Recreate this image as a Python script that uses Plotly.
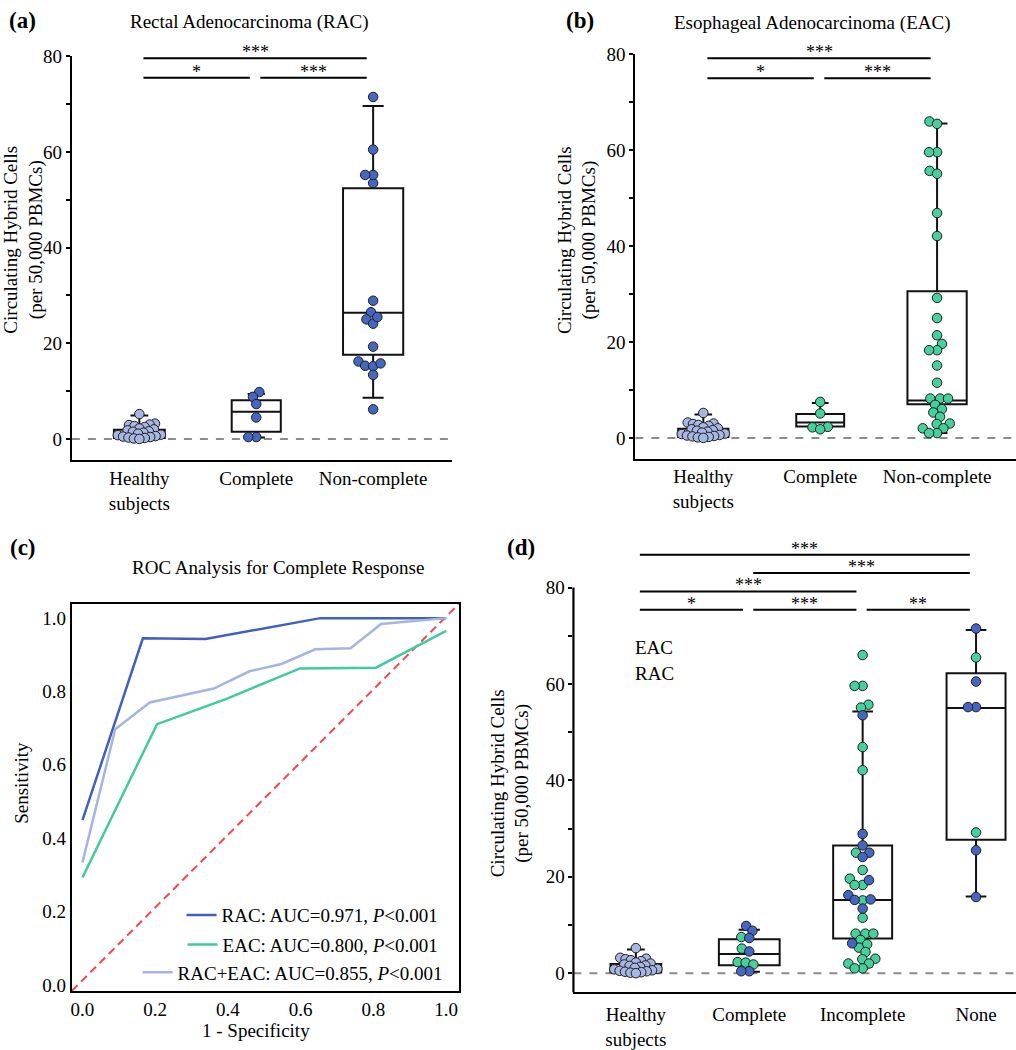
import math
import plotly.graph_objects as go

W, H = 1016, 1050
FONT = "Liberation Serif"
BLUE = "#4468C2"
LIGHT = "#A6B7E3"
GREEN = "#45D09C"
ROC_BLUE = "#3F60BE"
ROC_GREEN = "#3FCB9B"
ROC_LIGHT = "#A3B5E0"

# ---------------- data ----------------
cats_ab = ["Healthy<br>subjects", "Complete", "Non-complete"]
cats_d = ["Healthy<br>subjects", "Complete", "Incomplete", "None"]

healthy = [5.2, 3.2, 3.0, 2.9, 2.7, 2.5, 2.2, 2.0, 1.8, 1.6, 1.5, 1.3, 1.1,
           0.9, 0.8, 0.6, 0.5, 0.4, 0.3, 0.2, 0.1, 0.0]
rac_complete = [9.8, 8.8, 7.3, 4.5, 0.4, 0.4]
rac_incomplete = [53.5, 28.9, 26.5, 25.0, 24.1, 19.3, 16.2, 15.3, 15.2, 13.4, 6.2]
rac_none = [71.5, 60.5, 55.2, 55.2, 25.5, 15.8]
eac_complete = [7.5, 5.1, 2.3, 2.2, 1.8]
eac_incomplete = [66.0, 59.6, 59.6, 55.7, 55.1, 46.9, 42.1, 25.0, 21.4, 19.6,
                  18.3, 18.3, 15.1, 11.5, 8.2, 8.2, 8.2, 6.9, 6.0, 5.3, 4.4,
                  3.0, 2.9, 2.0, 2.0, 1.0, 1.0]
eac_none = [65.5, 29.2]

# box statistics as drawn in the picture
box_a_q1 = [0.2, 1.5, 17.6]
box_a_med = [0.9, 5.7, 26.4]
box_a_q3 = [1.9, 8.1, 52.4]
box_a_lo = [0.0, 0.3, 8.6]
box_a_hi = [4.9, 9.4, 69.6]

box_b_q1 = [0.2, 2.4, 7.0]
box_b_med = [0.9, 3.2, 7.8]
box_b_q3 = [1.9, 5.0, 30.6]
box_b_lo = [0.0, 1.8, 1.0]
box_b_hi = [4.9, 7.3, 65.6]

box_d_q1 = [0.2, 1.65, 7.2, 27.7]
box_d_med = [0.9, 4.0, 15.2, 55.0]
box_d_q3 = [1.9, 7.05, 26.5, 62.2]
box_d_lo = [0.0, 0.3, 1.4, 15.9]
box_d_hi = [4.9, 9.0, 54.3, 71.2]

# significance comparisons (group i, group j, level, label)
sig_a = [(0, 2, 1, "***"), (0, 1, 0, "*"), (1, 2, 0, "***")]
sig_b = [(0, 2, 1, "***"), (0, 1, 0, "*"), (1, 2, 0, "***")]
sig_d = [(0, 3, 3, "***"), (1, 3, 2, "***"), (0, 2, 1, "***"),
         (0, 1, 0, "*"), (1, 2, 0, "***"), (2, 3, 0, "**")]

# ROC curves
roc_rac_x = [0.0, 0.166, 0.338, 0.654, 1.0]
roc_rac_y = [0.449, 0.945, 0.943, 1.0, 1.0]
roc_eac_x = [0.0, 0.205, 0.394, 0.598, 0.807, 1.0]
roc_eac_y = [0.293, 0.711, 0.779, 0.863, 0.865, 0.965]
roc_all_x = [0.0, 0.090, 0.185, 0.361, 0.459, 0.547, 0.640, 0.737, 0.821, 1.0]
roc_all_y = [0.334, 0.697, 0.770, 0.808, 0.855, 0.875, 0.915, 0.918, 0.984, 1.0]
roc_names = ["RAC: AUC=0.971, <i>P</i>&lt;0.001",
             "EAC: AUC=0.800, <i>P</i>&lt;0.001",
             "RAC+EAC: AUC=0.855, <i>P</i>&lt;0.001"]

# ---------------- geometry (pixels) ----------------
GEOM = {
    "a": dict(xa="x", ya="y", left=71, right=451, top=47, bottom=457,
              ymin=-4.5, ymax=80, c0=138.5, step=117, base=75.5, lstep=4.1,
              widths=[0.435, 0.42, 0.515], yline=True, standoff=0),
    "b": dict(xa="x2", ya="y2", left=635, right=1016, top=45, bottom=455,
              ymin=-4.3, ymax=80, c0=703, step=117, base=75.0, lstep=4.2,
              widths=[0.43, 0.41, 0.507], yline=True, standoff=0),
    "d": dict(xa="x4", ya="y4", left=573, right=1016, top=546.8, bottom=996.7,
              ymin=-4.0, ymax=88, c0=635.5, step=113.5, base=75.4, lstep=3.8,
              widths=[0.447, 0.536, 0.52, 0.52], yline=False, standoff=4),
}


def px(x):
    return x / W


def py(y):
    return 1 - y / H


def swarm(vals, g, d):
    ppu_y = (g["bottom"] - g["top"]) / (g["ymax"] - g["ymin"])
    order = sorted(range(len(vals)), key=lambda i: vals[i])
    placed = []
    offs = [0.0] * len(vals)
    for i in order:
        yv = vals[i] * ppu_y
        near = [(a, b) for a, b in placed if abs(b - yv) < d]
        cands = [0.0]
        for a, b in near:
            dx = math.sqrt(max(d * d - (b - yv) ** 2, 0))
            cands += [a + dx, a - dx]
        cands.sort(key=lambda c: (abs(c), c))
        chosen = 0.0
        for c in cands:
            if all((c - a) ** 2 + (yv - b) ** 2 >= d * d - 1e-6 for a, b in near):
                chosen = c
                break
        placed.append((chosen, yv))
        offs[i] = chosen / g["step"]
    return offs


fig = go.Figure()
annotations = []
shapes = []
tfont = dict(family=FONT, size=19, color="black")


def add_box_panel(key, cats, q1, med, q3, lo, hi, groups, sigs):
    g = GEOM[key]
    xa, ya = g["xa"], g["ya"]
    for i in range(len(cats)):
        fig.add_trace(go.Box(
            x=[i], q1=[q1[i]], median=[med[i]], q3=[q3[i]],
            lowerfence=[lo[i]], upperfence=[hi[i]],
            width=g["widths"][i], whiskerwidth=0.35,
            line=dict(color="#111111", width=2), fillcolor="white",
            boxpoints=False, showlegend=False, hoverinfo="skip",
            xaxis=xa, yaxis=ya))
    # points (beeswarm layout computed from the values)
    for i, grp in enumerate(groups):
        allv = []
        cols = []
        for vals, col in grp:
            allv += vals
            cols += [col] * len(vals)
        limit = g["widths"][i] / 2 - 3.0 / g["step"]
        d = 8.0
        offs = swarm(allv, g, d)
        while max(abs(o) for o in offs) > limit and d > 4.0:
            d -= 0.5
            offs = swarm(allv, g, d)
        m = max(abs(o) for o in offs)
        if m > limit:
            offs = [o * limit / m for o in offs]
        for col in [GREEN, LIGHT, BLUE]:
            xs = [i + o for o, c in zip(offs, cols) if c == col]
            ys = [v for v, c in zip(allv, cols) if c == col]
            if not xs:
                continue
            fig.add_trace(go.Scatter(
                x=xs, y=ys, mode="markers",
                marker=dict(size=9.5, color=col, line=dict(color="#1E1E1E", width=1)),
                showlegend=False, hoverinfo="skip", xaxis=xa, yaxis=ya))
    # zero dashed line
    shapes.append(dict(type="line", xref=f"{xa} domain", x0=0, x1=1, yref=ya, y0=0, y1=0,
                       line=dict(color="#8C8C8C", width=2, dash="8px,8px"), layer="below"))
    if not g["yline"]:
        shapes.append(dict(type="line", xref=f"{xa} domain", x0=0, x1=0, yref=ya,
                           y0=g["ymin"], y1=80, line=dict(color="black", width=2.2)))
    # significance bars
    for i, j, lvl, lab in sigs:
        yv = g["base"] + g["lstep"] * lvl
        x0, x1 = i + 0.035, j - 0.055
        shapes.append(dict(type="line", xref=xa, yref=ya, x0=x0, x1=x1, y0=yv, y1=yv,
                           line=dict(color="black", width=2)))
        annotations.append(dict(x=(x0 + x1) / 2, y=yv, xref=xa, yref=ya, text=lab,
                                showarrow=False, yanchor="middle", yshift=6,
                                font=dict(family=FONT, size=18, color="black")))
    # axes
    n = len(cats)
    xkey = "xaxis" + xa[1:]
    ykey = "yaxis" + ya[1:]
    fig.layout[xkey] = dict(
        domain=[px(g["left"]), px(g["right"])],
        range=[(g["left"] - g["c0"]) / g["step"], (g["right"] - g["c0"]) / g["step"]],
        anchor=ya, showline=True, linecolor="black", linewidth=2.2, ticks="",
        tickmode="array", tickvals=list(range(n)), ticktext=cats,
        ticklabelstandoff=g["standoff"],
        showgrid=False, zeroline=False, tickfont=tfont)
    fig.layout[ykey] = dict(
        domain=[py(g["bottom"]), py(g["top"])], range=[g["ymin"], g["ymax"]],
        anchor=xa, showline=g["yline"], linecolor="black", linewidth=2.2,
        ticks="outside", ticklen=4, tickwidth=2, tickcolor="black",
        tickmode="linear", tick0=0, dtick=20,
        minor=dict(dtick=10, tick0=0, ticks="outside", ticklen=4, tickwidth=2,
                   tickcolor="black", showgrid=False),
        showgrid=False, zeroline=False, tickfont=tfont)


add_box_panel("a", cats_ab, box_a_q1, box_a_med, box_a_q3, box_a_lo, box_a_hi,
              [[(healthy, LIGHT)], [(rac_complete, BLUE)],
               [(rac_incomplete + rac_none, BLUE)]], sig_a)
add_box_panel("b", cats_ab, box_b_q1, box_b_med, box_b_q3, box_b_lo, box_b_hi,
              [[(healthy, LIGHT)], [(eac_complete, GREEN)],
               [(eac_incomplete + eac_none, GREEN)]], sig_b)
add_box_panel("d", cats_d, box_d_q1, box_d_med, box_d_q3, box_d_lo, box_d_hi,
              [[(healthy, LIGHT)], [(eac_complete, GREEN), (rac_complete, BLUE)],
               [(eac_incomplete, GREEN), (rac_incomplete, BLUE)],
               [(eac_none, GREEN), (rac_none, BLUE)]], sig_d)

# ---------------- ROC panel ----------------
for xs, ys, col, name, leg in [(roc_rac_x, roc_rac_y, ROC_BLUE, roc_names[0], "legend"),
                               (roc_eac_x, roc_eac_y, ROC_GREEN, roc_names[1], "legend2"),
                               (roc_all_x, roc_all_y, ROC_LIGHT, roc_names[2], "legend3")]:
    fig.add_trace(go.Scatter(x=xs, y=ys, mode="lines", name=name,
                             line=dict(color=col, width=2.5), legend=leg,
                             xaxis="x3", yaxis="y3", hoverinfo="skip"))
shapes.append(dict(type="line", xref="x3 domain", yref="y3 domain", x0=0, y0=0, x1=1, y1=1,
                   line=dict(color="#F0484A", width=2, dash="8px,5px"), layer="below"))

roc_axis = dict(showline=True, mirror=True, linecolor="black", linewidth=2.2, ticks="",
                tickmode="array", tickvals=[0, 0.2, 0.4, 0.6, 0.8, 1.0], tickformat=".1f",
                showgrid=False, zeroline=False, tickfont=tfont)
fig.layout["xaxis3"] = dict(domain=[px(71), px(458)], range=[-0.029, 1.034], anchor="y3", **roc_axis)
fig.layout["yaxis3"] = dict(domain=[py(995), py(602.8)], range=[-0.016, 1.038], anchor="x3", **roc_axis)

leg_common = dict(xanchor="right", yanchor="middle", bgcolor="rgba(0,0,0,0)",
                  borderwidth=0, font=dict(family=FONT, size=19, color="black"),
                  itemwidth=30)
fig.update_layout(
    legend=dict(x=px(443), y=py(918.2), **leg_common),
    legend2=dict(x=px(443), y=py(948.3), **leg_common),
    legend3=dict(x=px(447), y=py(976.4), **leg_common),
)

# ---------------- texts ----------------
def txt(x, y, text, size=19, angle=0):
    annotations.append(dict(x=px(x), y=py(y), xref="paper", yref="paper", text=text,
                            showarrow=False, xanchor="center", yanchor="middle",
                            textangle=angle,
                            font=dict(family=FONT, size=size, color="black")))


ytitle = "Circulating Hybrid Cells<br>(per 50,000 PBMCs)"
txt(22, 11, "<b>(a)</b>", size=23)
txt(248, 12, "Rectal Adenocarcinoma (RAC)")
txt(580, 11, "<b>(b)</b>", size=23)
txt(812, 13, "Esophageal Adenocarcinoma (EAC)")
txt(22, 545, "<b>(c)</b>", size=23)
txt(277, 566, "ROC Analysis for Complete Response")
txt(521, 545, "<b>(d)</b>", size=23)
txt(23, 233, ytitle, angle=-90)
txt(577, 233, ytitle, angle=-90)
txt(510, 784, ytitle, angle=-90)
txt(21, 784, "Sensitivity", angle=-90)
txt(255, 1035, "1 - Specificity")
annotations.append(dict(x=px(633), y=py(647), xref="paper", yref="paper", text="EAC",
                        showarrow=False, xanchor="left", yanchor="middle",
                        font=dict(family=FONT, size=19, color="black")))
annotations.append(dict(x=px(633), y=py(673), xref="paper", yref="paper", text="RAC",
                        showarrow=False, xanchor="left", yanchor="middle",
                        font=dict(family=FONT, size=19, color="black")))

fig.update_layout(
    width=W, height=H, margin=dict(l=0, r=0, t=0, b=0),
    paper_bgcolor="white", plot_bgcolor="white",
    font=dict(family=FONT, size=19, color="black"),
    annotations=annotations, shapes=shapes, hovermode=False,
)

fig.write_html("out.html", config={"displayModeBar": False},
               post_script="document.body.style.margin='0';document.body.style.padding='0';")
